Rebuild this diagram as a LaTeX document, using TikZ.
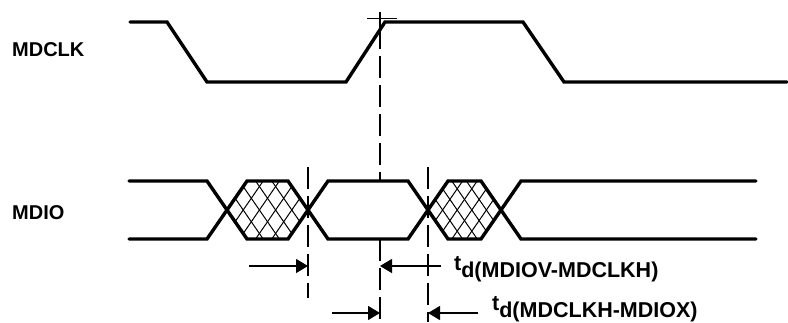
\documentclass[tikz,border=0pt]{standalone}
\usepackage{fontspec}
\setmainfont{Liberation Sans}
\usetikzlibrary{arrows.meta}

\begin{document}
\begin{tikzpicture}[
    x=1pt,y=-1pt,
    wave/.style   = {line width=3.4pt, line cap=round},
    guide/.style  = {line width=1.2pt, dash pattern=on 22pt off 7pt},
    tickln/.style = {line width=1.2pt},
    xhatch/.style = {line width=1pt},
    dim/.style    = {-{Triangle[length=12pt,width=14pt]}, line width=1.2pt},
    sig/.style    = {font=\fontsize{20}{24}\selectfont\bfseries,
                     anchor=west, inner sep=0pt},
    tim/.style    = {font=\fontsize{21.5}{24}\selectfont\bfseries,
                     anchor=base west, inner sep=0pt},
  ]

  \useasboundingbox (0,0) rectangle (788,322);

  % signal names
  \node[sig] (clk)  at (12,50)  {MDCLK};
  \node[sig] (mdio) at (12,213) {MDIO};

  % hatched (invalid) data
  \foreach \a/\b in {227/308,428/501} {
    \begin{scope}
      \clip (\a,210) -- (\a+20,181) -- (\b-20,181) -- (\b,210)
            -- (\b-20,239) -- (\a+20,239) -- cycle;
      \foreach \k in {0,...,5} {
        \draw[xhatch] (\a+\k*\b/5-\k*\a/5-20,239) -- (\a+\k*\b/5-\k*\a/5+20,181);
        \draw[xhatch] (\a+\k*\b/5-\k*\a/5-20,181) -- (\a+\k*\b/5-\k*\a/5+20,239);
      }
    \end{scope}
  }

  % waveforms
  \draw[wave] (130,22) -- (167,22) -- (207,82) -- (346,82) -- (385,22)
              -- (523,22) -- (564,82) -- (787,82);
  \draw[wave] (129,181) -- (207,181) -- (247,239) -- (288,239) -- (328,181)
              -- (408,181) -- (448,239) -- (481,239) -- (521,181) -- (756,181);
  \draw[wave] (129,239) -- (207,239) -- (247,181) -- (288,181) -- (328,239)
              -- (408,239) -- (448,181) -- (481,181) -- (521,239) -- (756,239);

  % reference lines
  \coordinate (gA) at (308,167);
  \coordinate (gB) at (380,27);
  \coordinate (gC) at (428,167);
  \draw[tickln] (380,12) -- (gB);
  \draw[tickln] (367,18.5) -- (397,18.5);
  \draw[guide] (gB) -- (380,181);
  \draw[guide] (380,239) -- (380,322);
  \draw[guide] (gA) -- (308,298);
  \draw[guide] (gC) -- (428,322);

  % timing arrows
  \coordinate (s1) at (249,266);
  \coordinate (s2) at (441,266);
  \coordinate (s3) at (332,313);
  \coordinate (s4) at (478,313);
  \draw[dim] (s1) -- (s1 -| gA);
  \draw[dim] (s2) -- (s2 -| gB);
  \draw[dim] (s3) -- (s3 -| gB);
  \draw[dim] (s4) -- (s4 -| gC);

  \node[tim] (tvh) at (454,270) {t\lower7pt\hbox{d(MDIOV-MDCLKH)}};
  \node[tim] (thx) at (492,310) {t\lower7pt\hbox{d(MDCLKH-MDIOX)}};

\end{tikzpicture}
\end{document}
